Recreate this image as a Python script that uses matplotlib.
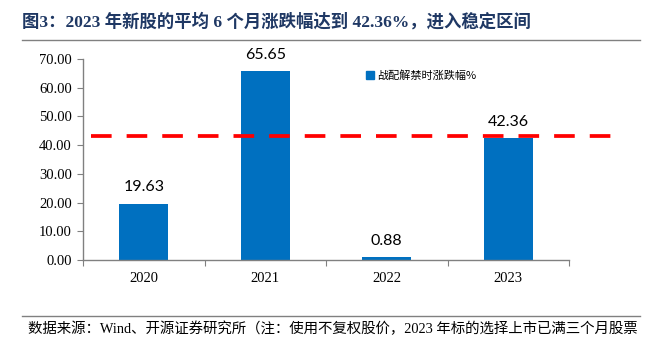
import matplotlib.pyplot as plt
from matplotlib.lines import Line2D

years = ['2020', '2021', '2022', '2023']
values = [19.63, 65.65, 0.88, 42.36]
avg_line = 43.3
series_name = '战配解禁时涨跌幅%'
title = '图3：2023 年新股的平均 6 个月涨跌幅达到 42.36%，进入稳定区间'
source = '数据来源：Wind、开源证券研究所（注：使用不复权股价，2023 年标的选择上市已满三个月股票'

serif = ['Liberation Serif', 'Noto Sans CJK SC']
blue = '#0070C0'
grey = '#808080'

fig = plt.figure(figsize=(6.61, 3.49), dpi=100)
ax = fig.add_axes([83 / 661, 1 - 260 / 349, 486 / 661, 201 / 349])

x = range(len(years))
ax.bar(x, values, width=0.4, color=blue, zorder=2)
for i, v in enumerate(values):
    ax.annotate(f'{v:.2f}', (i, v), xytext=(0, 7), textcoords='offset points',
                ha='center', va='bottom', fontsize=11.5, family='Lato')

ax.plot([-0.434, 3.92], [avg_line, avg_line], color='#FF0000', lw=2.7,
        dashes=(5.5, 4), clip_on=False, zorder=3)

ax.set_xlim(-0.5, 3.5)
ax.set_ylim(0, 70)
ax.set_yticks(range(0, 71, 10))
ax.set_yticklabels([f'{t:.2f}' for t in range(0, 71, 10)], family=serif, fontsize=10.5)
ax.set_xticks([-0.5, 0.5, 1.5, 2.5, 3.5])
ax.set_xticklabels([])
ax.set_xticks(list(x), minor=True)
ax.set_xticklabels(years, minor=True, family=serif, fontsize=10.5)
ax.tick_params(axis='x', which='minor', length=0, pad=9)
ax.tick_params(axis='x', which='major', length=4, color=grey)
ax.tick_params(axis='y', length=4, color=grey, pad=4)

for s in ['top', 'right']:
    ax.spines[s].set_visible(False)
for s in ['left', 'bottom']:
    ax.spines[s].set_color(grey)
    ax.spines[s].set_linewidth(1)

handle = Line2D([], [], marker='s', color=blue, linestyle='none', markersize=5.5)
ax.legend([handle], [series_name], loc='upper left', bbox_to_anchor=(0.567, 0.965),
          frameon=False, handletextpad=0.1, handlelength=1.2, borderaxespad=0,
          prop={'family': ['Noto Sans CJK SC'], 'size': 8})

fig.text(22 / 661, 1 - 22 / 349, title, family=serif, fontsize=12.5, weight='bold',
         color='#1F3864', va='center', ha='left')
fig.add_artist(Line2D([22 / 661, 640 / 661], [1 - 40 / 349, 1 - 40 / 349], color=grey, lw=1))
fig.add_artist(Line2D([22 / 661, 640 / 661], [1 - 316 / 349, 1 - 316 / 349], color=grey, lw=1))
fig.text(28 / 661, 1 - 329 / 349, source, family=serif, fontsize=10.4, va='center', ha='left')

fig.savefig('out.png', dpi=100)
